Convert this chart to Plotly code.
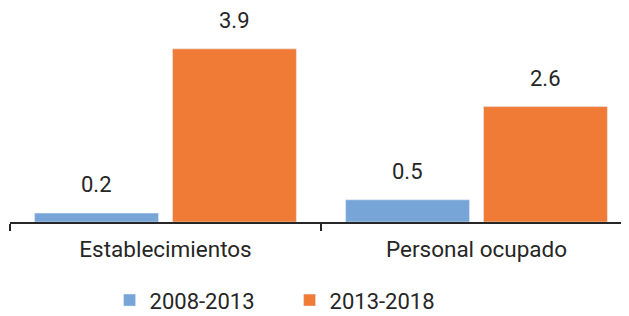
import plotly.graph_objects as go

categories = ["Establecimientos", "Personal ocupado"]
series_names = ["2008-2013", "2013-2018"]
values_2008_2013 = [0.2, 0.5]
values_2013_2018 = [3.9, 2.6]
colors = ["#77A5D8", "#F07B36"]

BARGAP = 0.113
fig = go.Figure()
for name, vals, col in zip(series_names, [values_2008_2013, values_2013_2018], colors):
    fig.add_trace(go.Bar(x=categories, y=vals, name=name, marker_color=col))

# value labels above bars (offset derived from the group layout)
slot = (1 - BARGAP) / 2
for k, vals in enumerate([values_2008_2013, values_2013_2018]):
    off = (k - 0.5) * slot
    for i, v in enumerate(vals):
        fig.add_annotation(x=i + off, y=v, xref="x", yref="y", text=f"{v:.1f}",
                           showarrow=False, yanchor="bottom", yshift=14,
                           font=dict(size=22, color="#262626"))

fig.update_layout(
    width=629, height=316,
    margin=dict(l=2, r=5, t=0, b=102, autoexpand=False),
    paper_bgcolor="white", plot_bgcolor="white",
    barmode="group", bargap=BARGAP, bargroupgap=0.102,
    font=dict(family="Roboto", size=22, color="#262626"),
    showlegend=True,
    legend=dict(orientation="h", x=0.1615, xanchor="left", xref="container",
                y=0.075, yanchor="middle", yref="container",
                font=dict(size=22, color="#262626"), itemwidth=30,
                entrywidth=135, traceorder="normal"),
    xaxis=dict(showline=True, linecolor="#262626", linewidth=2, automargin=False,
               ticks="outside", ticklen=7, tickcolor="#262626", tickwidth=2,
               tickson="boundaries", tickfont=dict(size=22.5, color="#262626"),
               ticklabelstandoff=6, range=[-0.5, 1.5]),
    yaxis=dict(range=[0, 4.82], visible=False),
)
fig.write_html("out.html")
